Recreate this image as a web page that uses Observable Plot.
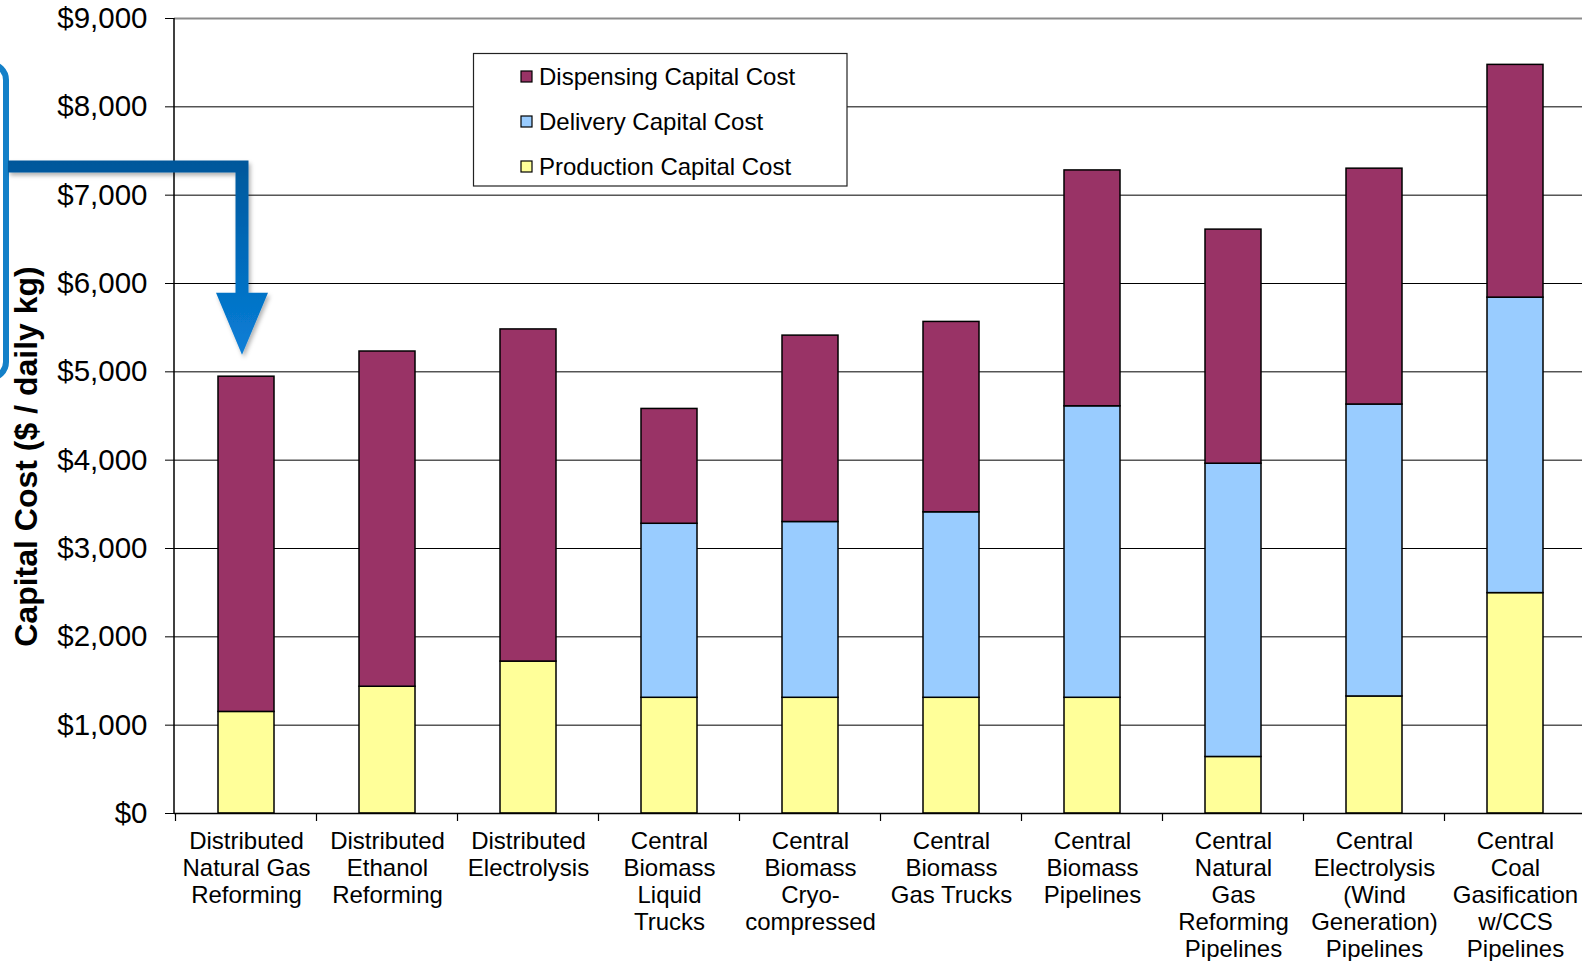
<!DOCTYPE html>
<html>
<head>
<meta charset="utf-8">
<script src="https://cdn.jsdelivr.net/npm/d3@7"></script>
<script src="https://cdn.jsdelivr.net/npm/@observablehq/plot@0.6"></script>
<style>
  html, body { margin: 0; padding: 0; background: #fff; }
  #chart svg { display: block; }
</style>
</head>
<body>
<div id="chart"></div>
<script>
// Hydrogen pathway capital costs, $ per daily kg of capacity
const categories = [
  "Distributed\nNatural Gas\nReforming",
  "Distributed\nEthanol\nReforming",
  "Distributed\nElectrolysis",
  "Central\nBiomass\nLiquid\nTrucks",
  "Central\nBiomass\nCryo-\ncompressed",
  "Central\nBiomass\nGas Trucks",
  "Central\nBiomass\nPipelines",
  "Central\nNatural\nGas\nReforming\nPipelines",
  "Central\nElectrolysis\n(Wind\nGeneration)\nPipelines",
  "Central\nCoal\nGasification\nw/CCS\nPipelines"
];

// stacked bottom to top
const seriesNames = ["Production Capital Cost", "Delivery Capital Cost", "Dispensing Capital Cost"];
const seriesColors = ["#FFFF99", "#99CCFF", "#993366"];
const legendOrder = ["Dispensing Capital Cost", "Delivery Capital Cost", "Production Capital Cost"];

const production = [1150, 1435, 1720, 1310, 1310, 1310, 1310, 640, 1325, 2495];
const delivery   = [0, 0, 0, 1970, 1990, 2100, 3300, 3320, 3305, 3345];
const dispensing = [3795, 3795, 3760, 1300, 2110, 2155, 2670, 2650, 2670, 2635];

const yTicks = [0, 1000, 2000, 3000, 4000, 5000, 6000, 7000, 8000, 9000];

// callout arrow pointing at the first pathway (y levels in $ / daily kg)
const arrowBarLevel = 7320;
const arrowHeadBase = 5890;
const arrowTip = 5187;

const rows = [];
categories.forEach((c, i) => {
  [production, delivery, dispensing].forEach((vals, k) => {
    if (vals[i] > 0) rows.push({category: c, series: seriesNames[k], value: vals[i]});
  });
});

const font = "'Liberation Sans', Arial, Helvetica, sans-serif";

const plot = Plot.plot({
  width: 1582,
  height: 961,
  marginTop: 18,
  marginBottom: 148,
  marginLeft: 174,
  marginRight: 0,
  style: {fontFamily: font, color: "#000", background: "#fff", overflow: "visible"},
  x: {domain: categories, range: [174, 1587], paddingInner: 0.6, paddingOuter: 0.3},
  y: {domain: [0, 9000]},
  color: {domain: seriesNames, range: seriesColors},
  marks: [
    Plot.ruleY(yTicks.filter(d => d > 0 && d < 9000), {stroke: "#000", strokeWidth: 1}),
    Plot.ruleY([9000], {stroke: "#8c8c8c", strokeWidth: 2}),
    Plot.barY(rows, {
      x: "category", y: "value", fill: "series", order: seriesNames,
      stroke: "#000", strokeWidth: 1.5
    }),
    Plot.ruleY([0], {stroke: "#000", strokeWidth: 1.5}),
    Plot.axisY({
      ticks: yTicks, tickFormat: d => "$" + d3.format(",")(d),
      fontSize: 29.5, tickSize: 9, tickPadding: 18, label: null
    }),
    Plot.axisX({tickSize: 0, tickPadding: 16, fontSize: 24, lineHeight: 1.125, label: null})
  ]
});

document.getElementById("chart").appendChild(plot);

const svg = d3.select(plot);
const xs = plot.scale("x");
const ys = plot.scale("y");
const color = plot.scale("color");
const y0 = ys.apply(0);
const yTop = ys.apply(9000);
const xLeft = xs.range[0];

// value axis line
svg.append("line")
  .attr("x1", xLeft).attr("x2", xLeft)
  .attr("y1", yTop).attr("y2", y0)
  .attr("stroke", "#000").attr("stroke-width", 1.5);

// category separator ticks below the baseline
const bounds = categories.map(c => xs.apply(c) + xs.bandwidth / 2 - xs.step / 2);
bounds.push(bounds[bounds.length - 1] + xs.step);
svg.append("g").selectAll("line").data(bounds).join("line")
  .attr("x1", d => d).attr("x2", d => d)
  .attr("y1", y0).attr("y2", y0 + 8)
  .attr("stroke", "#000").attr("stroke-width", 1.2);

// value axis title
svg.append("text")
  .attr("transform", "translate(37,456.5) rotate(-90)")
  .attr("text-anchor", "middle")
  .attr("font-family", font)
  .attr("font-weight", "bold")
  .attr("font-size", 32)
  .attr("fill", "#000")
  .text("Capital Cost ($ / daily kg)");

// legend box
const lg = svg.append("g").attr("text-anchor", "start");
lg.append("rect")
  .attr("x", 473.5).attr("y", 53.5).attr("width", 373.5).attr("height", 132.5)
  .attr("fill", "#fff").attr("stroke", "#222").attr("stroke-width", 1.2);
legendOrder.forEach((name, i) => {
  const cy = 77 + i * 45;
  lg.append("rect")
    .attr("x", 521).attr("y", cy - 6).attr("width", 11).attr("height", 11)
    .attr("fill", color.apply(name)).attr("stroke", "#000").attr("stroke-width", 1.2);
  lg.append("text")
    .attr("x", 539).attr("y", cy + 8)
    .attr("text-anchor", "start")
    .attr("font-family", font).attr("font-size", 24).attr("fill", "#000")
    .text(name);
});

// callout bracket and arrow
const defs = svg.append("defs");
const grad = defs.append("linearGradient")
  .attr("id", "arrowGrad").attr("gradientUnits", "userSpaceOnUse")
  .attr("x1", 0).attr("x2", 0)
  .attr("y1", ys.apply(arrowBarLevel) - 6).attr("y2", ys.apply(arrowTip));
grad.append("stop").attr("offset", 0).attr("stop-color", "#00579a");
grad.append("stop").attr("offset", 0.45).attr("stop-color", "#0069b8");
grad.append("stop").attr("offset", 1).attr("stop-color", "#0a7fd8");
const shadow = defs.append("filter").attr("id", "arrowShadow")
  .attr("x", "-20%").attr("y", "-20%").attr("width", "150%").attr("height", "150%");
shadow.append("feDropShadow")
  .attr("dx", 2).attr("dy", 3).attr("stdDeviation", 2)
  .attr("flood-color", "#000").attr("flood-opacity", 0.3);

svg.append("rect")
  .attr("x", -40).attr("y", 64).attr("width", 46).attr("height", 314).attr("rx", 16)
  .attr("fill", "none").attr("stroke", "#1480c8").attr("stroke-width", 6);

const xc = xs.apply(categories[0]) + xs.bandwidth / 2 - 4;
const yh = ys.apply(arrowBarLevel);
const yb = ys.apply(arrowHeadBase);
const yt = ys.apply(arrowTip);
const hw = 6.5, sw = 6, ah = 26, xStart = 8;
const path = [
  [xStart, yh - sw], [xc + hw, yh - sw], [xc + hw, yb], [xc + ah, yb],
  [xc, yt], [xc - ah, yb], [xc - hw, yb], [xc - hw, yh + sw], [xStart, yh + sw]
];
svg.append("path")
  .attr("d", "M" + path.map(p => p.join(",")).join("L") + "Z")
  .attr("fill", "url(#arrowGrad)")
  .attr("filter", "url(#arrowShadow)");
</script>
</body>
</html>
